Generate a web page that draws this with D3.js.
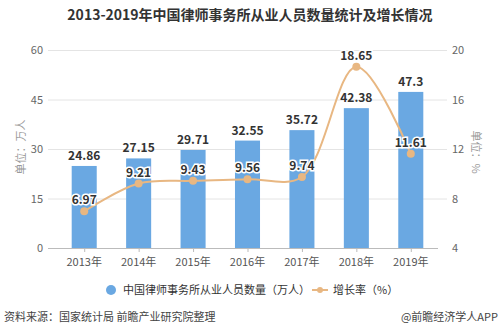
<!DOCTYPE html>
<html>
<head>
<meta charset="utf-8">
<script src="https://cdn.jsdelivr.net/npm/d3@7/dist/d3.min.js"></script>
<style>
  html, body { margin: 0; padding: 0; background: #fff; }
  svg { display: block; font-family: "Noto Sans CJK SC", "Noto Sans", sans-serif; }
</style>
</head>
<body>
<svg id="chart" width="500" height="335"></svg>
<script>
// Lawyers' office employees in China, 2013-2019
const years = ["2013年", "2014年", "2015年", "2016年", "2017年", "2018年", "2019年"];
const staff = [24.86, 27.15, 29.71, 32.55, 35.72, 42.38, 47.3];        // 万人
const growth = [6.97, 9.21, 9.43, 9.56, 9.74, 18.65, 11.61];          // %
const leftTicks = [0, 15, 30, 45, 60];
const rightTicks = [4, 8, 12, 16, 20];

const barColor = "#6aa8e2";
const lineColor = "#e8b782";

const svg = d3.select("#chart");
const m = { left: 57, right: 438, top: 50, bottom: 248 };

const x = d3.scaleBand().domain(years).range([m.left, m.right]).paddingInner(0.54).paddingOuter(0.27);
const yL = d3.scaleLinear().domain([0, 60]).range([m.bottom, m.top]);
const yR = d3.scaleLinear().domain([4, 20]).range([m.bottom, m.top]);

// title
svg.append("text")
  .attr("x", 250).attr("y", 20)
  .attr("text-anchor", "middle")
  .attr("font-size", 14).attr("font-weight", "bold").attr("fill", "#333")
  .text("2013-2019年中国律师事务所从业人员数量统计及增长情况");

// grid lines
svg.append("g").selectAll("line").data(leftTicks.slice(1)).join("line")
  .attr("x1", 48).attr("x2", 447)
  .attr("y1", d => yL(d) + 0.5).attr("y2", d => yL(d) + 0.5)
  .attr("stroke", "#e4e4e4").attr("stroke-width", 1);

// left axis labels
svg.append("g").selectAll("text").data(leftTicks).join("text")
  .attr("x", 43).attr("y", d => yL(d) + 4)
  .attr("text-anchor", "end").attr("font-size", 11).attr("fill", "#666")
  .text(d => d);

// right axis labels
svg.append("g").selectAll("text").data(rightTicks).join("text")
  .attr("x", 452).attr("y", d => yR(d) + 4)
  .attr("text-anchor", "start").attr("font-size", 11).attr("fill", "#666")
  .text(d => d);

// axis titles
svg.append("text")
  .attr("transform", "translate(25,147) rotate(-90)")
  .attr("text-anchor", "middle").attr("font-size", 11).attr("fill", "#999")
  .text("单位：万人");
svg.append("text")
  .attr("transform", "translate(472,152) rotate(90)")
  .attr("text-anchor", "middle").attr("font-size", 11).attr("fill", "#999")
  .text("单位：%");

// bars
svg.append("g").selectAll("rect").data(staff).join("rect")
  .attr("x", (d, i) => x(years[i]))
  .attr("y", d => yL(d))
  .attr("width", x.bandwidth())
  .attr("height", d => yL(0) - yL(d))
  .attr("fill", barColor);

// x axis line + ticks
svg.append("line")
  .attr("x1", 48).attr("x2", m.right)
  .attr("y1", m.bottom + 0.5).attr("y2", m.bottom + 0.5)
  .attr("stroke", "#bbb");
svg.append("g").selectAll("line").data(years).join("line")
  .attr("x1", d => x(d) + x.bandwidth() / 2 + 0.5).attr("x2", d => x(d) + x.bandwidth() / 2 + 0.5)
  .attr("y1", m.bottom).attr("y2", m.bottom + 4)
  .attr("stroke", "#bbb");
svg.append("g").selectAll("text").data(years).join("text")
  .attr("x", d => x(d) + x.bandwidth() / 2)
  .attr("y", 266)
  .attr("text-anchor", "middle").attr("font-size", 11).attr("fill", "#555")
  .text(d => d);

// bar value labels
svg.append("g").selectAll("text").data(staff).join("text")
  .attr("x", (d, i) => x(years[i]) + x.bandwidth() / 2)
  .attr("y", d => yL(d) - 6)
  .attr("text-anchor", "middle").attr("font-size", 12).attr("font-weight", "bold").attr("fill", "#333")
  .text(d => d);

// growth line
const pts = growth.map((d, i) => [x(years[i]) + x.bandwidth() / 2, yR(d)]);
svg.append("path")
  .attr("d", d3.line().curve(d3.curveCatmullRom.alpha(0.5))(pts))
  .attr("fill", "none").attr("stroke", lineColor).attr("stroke-width", 2);
svg.append("g").selectAll("circle").data(pts).join("circle")
  .attr("cx", d => d[0]).attr("cy", d => d[1]).attr("r", 4)
  .attr("fill", lineColor);

// growth labels with halo
svg.append("g").selectAll("text").data(growth).join("text")
  .attr("x", (d, i) => pts[i][0])
  .attr("y", (d, i) => pts[i][1] - 7)
  .attr("text-anchor", "middle").attr("font-size", 12).attr("font-weight", "bold")
  .attr("fill", "#333").attr("stroke", "#fff").attr("stroke-width", 3)
  .attr("paint-order", "stroke")
  .text(d => d);

// legend
const lg = svg.append("g");
lg.append("circle").attr("cx", 111).attr("cy", 290).attr("r", 5).attr("fill", barColor);
lg.append("text").attr("x", 123).attr("y", 294).attr("font-size", 11).attr("fill", "#333")
  .text("中国律师事务所从业人员数量（万人）");
lg.append("line").attr("x1", 312).attr("x2", 328).attr("y1", 290).attr("y2", 290)
  .attr("stroke", lineColor).attr("stroke-width", 2);
lg.append("circle").attr("cx", 320).attr("cy", 290).attr("r", 3).attr("fill", lineColor);
lg.append("text").attr("x", 333).attr("y", 294).attr("font-size", 11).attr("fill", "#333")
  .text("增长率（%）");

// footer
svg.append("text").attr("x", 4).attr("y", 321).attr("font-size", 11).attr("fill", "#444")
  .text("资料来源：国家统计局 前瞻产业研究院整理");
svg.append("text").attr("x", 498).attr("y", 321).attr("text-anchor", "end").attr("font-size", 11).attr("fill", "#444")
  .text("@前瞻经济学人APP");
</script>
</body>
</html>
